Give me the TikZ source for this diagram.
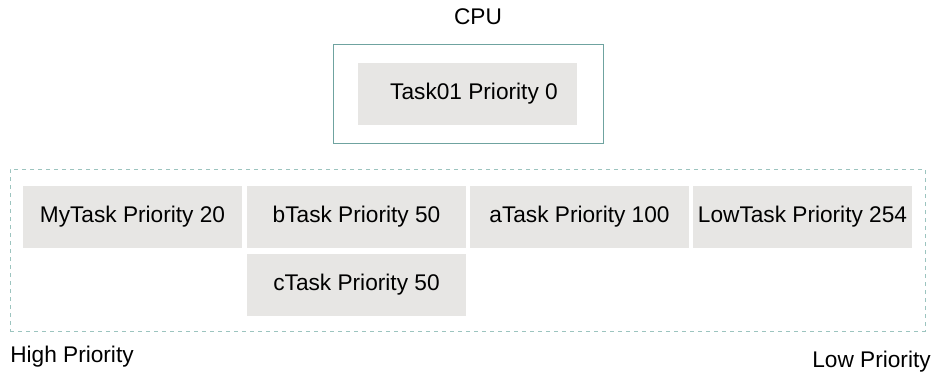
\documentclass[tikz,border=0pt]{standalone}
\usepackage{fontspec}
\setmainfont{Liberation Sans}
\definecolor{taskgray}{HTML}{E7E6E4}
\definecolor{cpuline}{HTML}{6FA3A0}
\definecolor{dashline}{HTML}{9CC4BF}
\begin{document}
\begin{tikzpicture}[x=0.75pt,y=-0.75pt,
  taskbox/.style={fill=taskgray,draw=none,minimum width=164.25pt,minimum height=46.5pt,inner sep=0pt,font=\fontsize{17}{20}\selectfont},
  lbl/.style={inner sep=0pt,font=\fontsize{17}{20}\selectfont}]
\useasboundingbox (0,0) rectangle (933,375);
\node[lbl] (cpu) at (478,17) {CPU};
\node[draw=cpuline,line width=0.7pt,minimum width=202.5pt,minimum height=74.25pt,inner sep=0pt] (cpubox) at (468,93.5) {};
\node[taskbox] (t01) at (467.5,94) {\hspace*{9.75pt}Task01 Priority 0};
\node[draw=dashline,dashed,line width=0.6pt,minimum width=686.25pt,minimum height=121.5pt,inner sep=0pt] (ready) at (467.5,250) {};
\node[taskbox] (my) at (132.5,217) {MyTask Priority 20};
\node[taskbox] (b) at (356.5,217) {bTask Priority 50};
\node[taskbox] (a) at (579.5,217) {aTask Priority 100};
\node[taskbox] (low) at (802.5,217) {LowTask Priority 254};
\node[taskbox] (c) at (356.5,285) {cTask Priority 50};
\node[lbl,anchor=west] (high) at (10,357) {High Priority};
\node[lbl,anchor=east] (lowp) at (931,362) {Low Priority};
\end{tikzpicture}
\end{document}
